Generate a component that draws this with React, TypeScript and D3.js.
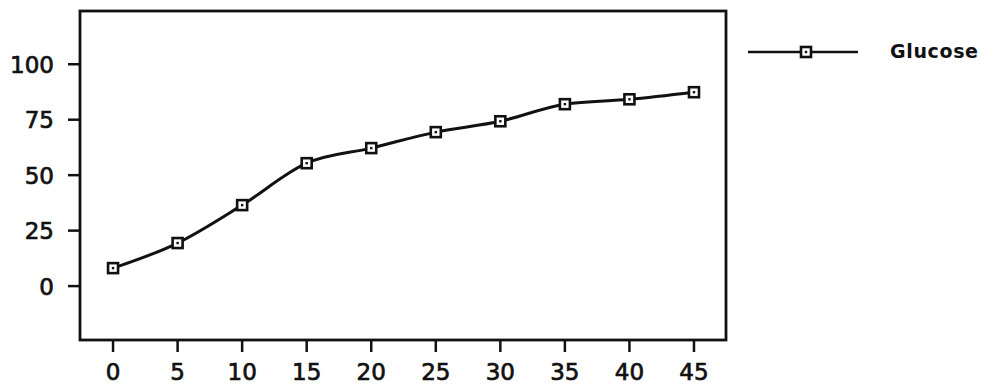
import React from "react";
import * as d3 from "d3";

const times = [0, 5, 10, 15, 20, 25, 30, 35, 40, 45];
const glucose = [8.1, 19.4, 36.5, 55.4, 62.2, 69.4, 74.3, 82, 84.2, 87.4];
const xTicks = [0, 5, 10, 15, 20, 25, 30, 35, 40, 45];
const yTicks = [0, 25, 50, 75, 100];
const seriesName = "Glucose";

const W = 981;
const H = 384;
const FONT = "'DejaVu Sans', sans-serif";

export default function App() {
  const x = d3.scaleLinear().domain([-2.56, 47.48]).range([80, 726]);
  const y = d3.scaleLinear().domain([-24.3, 124]).range([340, 11]);
  const [x0, x1] = x.range();
  const [y0, y1] = y.range();

  const line = d3
    .line<number>()
    .x((_, i) => x(times[i]))
    .y((d) => y(d))
    .curve(d3.curveMonotoneX);

  const marker = (cx: number, cy: number, key: string) => (
    <g key={key}>
      <rect x={cx - 5} y={cy - 5} width={10} height={10} fill="#fff" stroke="#111" strokeWidth={2.6} />
      <rect x={cx - 1.2} y={cy - 1.2} width={2.4} height={2.4} fill="#111" />
    </g>
  );

  return (
    <svg
      width={W}
      height={H}
      style={{ position: "absolute", left: 0, top: 0, background: "#fff" }}
    >
      <rect x={0} y={0} width={W} height={H} fill="#fff" />
      {/* frame */}
      <rect x={x0} y={y1} width={x1 - x0} height={y0 - y1} fill="none" stroke="#111" strokeWidth={2.8} />
      {/* y ticks */}
      {yTicks.map((t) => (
        <g key={"y" + t}>
          <line x1={x0 - 12} x2={x0} y1={y(t)} y2={y(t)} stroke="#111" strokeWidth={2.5} />
          <text x={54} y={y(t) + 8.5} textAnchor="end" fontFamily={FONT} fontSize={23} fill="#111" stroke="#111" strokeWidth={0.7}>
            {t}
          </text>
        </g>
      ))}
      {/* x ticks */}
      {xTicks.map((t) => (
        <g key={"x" + t}>
          <line x1={x(t)} x2={x(t)} y1={y0} y2={y0 + 12} stroke="#111" strokeWidth={2.5} />
          <text x={x(t)} y={379.5} textAnchor="middle" fontFamily={FONT} fontSize={23} fill="#111" stroke="#111" strokeWidth={0.7}>
            {t}
          </text>
        </g>
      ))}
      {/* series */}
      <path d={line(glucose) || ""} fill="none" stroke="#111" strokeWidth={3} strokeLinejoin="round" />
      {glucose.map((v, i) => marker(x(times[i]), y(v), "m" + i))}
      {/* legend */}
      <line x1={748} x2={858} y1={52} y2={52} stroke="#111" strokeWidth={2.5} />
      {marker(806, 52, "leg")}
      <text x={890} y={58} fontFamily={FONT} fontSize={19} fontWeight="bold" fill="#111" textLength={88} lengthAdjust="spacing">
        {seriesName}
      </text>
    </svg>
  );
}
